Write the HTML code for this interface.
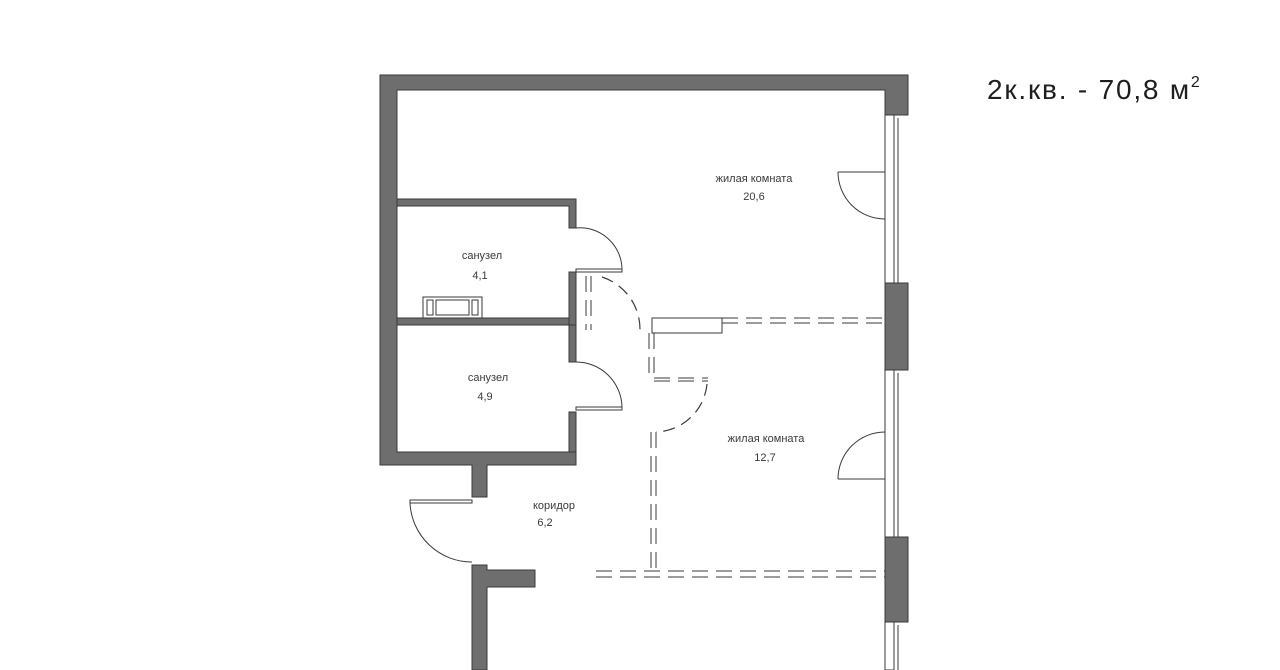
<!DOCTYPE html>
<html><head><meta charset="utf-8"><style>
html,body{margin:0;padding:0;background:#fff;width:1280px;height:670px;overflow:hidden}
svg{display:block}
text{font-family:"Liberation Sans","DejaVu Sans",sans-serif;fill:#3a3a3a}
</style></head><body>
<svg width="1280" height="670" viewBox="0 0 1280 670" xmlns="http://www.w3.org/2000/svg">
<rect width="1280" height="670" fill="#fff"/>
<g fill="#6e6e6e" stroke="#3a3a3a" stroke-width="1">
<path d="M380 75 H908 V115 H885 V90 H397 V452 H576 V465 H487 V497 H472 V465 H380 Z"/>
<path d="M397 199 H576 V228 H569 V206 H397 Z"/>
<path d="M569 272 H576 V330 H569 Z"/>
<path d="M397 318 H569 V325 H397 Z"/>
<path d="M569 325 H576 V362 H569 Z"/>
<path d="M569 412 H576 V452 H569 Z"/>
<path d="M472 565 H487 V570 H535 V587 H487 V670 H472 Z"/>
<rect x="885" y="283" width="23" height="87"/>
<rect x="885" y="537" width="23" height="85"/>
</g>
<g fill="none" stroke="#3a3a3a" stroke-width="1">
<rect x="885" y="115" width="9" height="168"/><line x1="898" y1="118" x2="898" y2="283"/>
<rect x="885" y="370" width="9" height="167"/><line x1="898" y1="373" x2="898" y2="537"/>
<rect x="885" y="622" width="9" height="48"/><line x1="898" y1="625" x2="898" y2="670"/>
<line x1="838" y1="172" x2="885" y2="172"/><path d="M838 172 A47 47 0 0 0 885 219"/>
<line x1="838" y1="479" x2="885" y2="479"/><path d="M838 479 A47 47 0 0 1 885 432"/>
<rect x="576" y="269" width="46" height="3"/><path d="M576 228 A42 42 0 0 1 622 269"/>
<rect x="576" y="407" width="46" height="3"/><path d="M576 362 A46 46 0 0 1 622 407"/>
<rect x="410" y="500" width="62" height="3"/><path d="M410 503 A62 62 0 0 0 472 562"/>
<rect x="423" y="297" width="59" height="21"/>
<rect x="436" y="300" width="33" height="15"/>
<rect x="427" y="300" width="6" height="15"/><rect x="472" y="300" width="6" height="15"/>
<rect x="652" y="318" width="70" height="15"/>
</g>
<g fill="none" stroke="#3a3a3a" stroke-width="1" stroke-dasharray="16,8">
<line x1="722" y1="318" x2="885" y2="318"/><line x1="722" y1="323" x2="885" y2="323"/>
<line x1="596" y1="571" x2="885" y2="571"/><line x1="596" y1="577" x2="885" y2="577"/>
<line x1="651" y1="432" x2="651" y2="571"/><line x1="656" y1="432" x2="656" y2="571"/>
<line x1="586" y1="276" x2="586" y2="330"/><line x1="591" y1="276" x2="591" y2="330"/>
<line x1="649" y1="333" x2="649" y2="380"/><line x1="654" y1="333" x2="654" y2="380"/>
<line x1="654" y1="378" x2="708" y2="378"/><line x1="654" y1="381" x2="708" y2="381"/>
</g>
<g fill="none" stroke="#3a3a3a" stroke-width="1.2" stroke-dasharray="12,7">
<path d="M602 277 A55 55 0 0 1 640 330"/>
<path d="M707 384 A53 53 0 0 1 656 432"/>
</g>
<g font-size="11" text-anchor="middle">
<text x="754" y="182">жилая комната</text><text x="754" y="200">20,6</text>
<text x="482" y="259">санузел</text><text x="480" y="279">4,1</text>
<text x="488" y="381">санузел</text><text x="485" y="400">4,9</text>
<text x="766" y="442">жилая комната</text><text x="765" y="461">12,7</text>
<text x="554" y="509">коридор</text><text x="545" y="526">6,2</text>
</g>
<text x="987" y="99" font-size="28" style="fill:#1e1e1e;letter-spacing:1.8px">2к.кв. - 70,8 м<tspan font-size="16" dy="-12">2</tspan></text>
</svg>
</body></html>
